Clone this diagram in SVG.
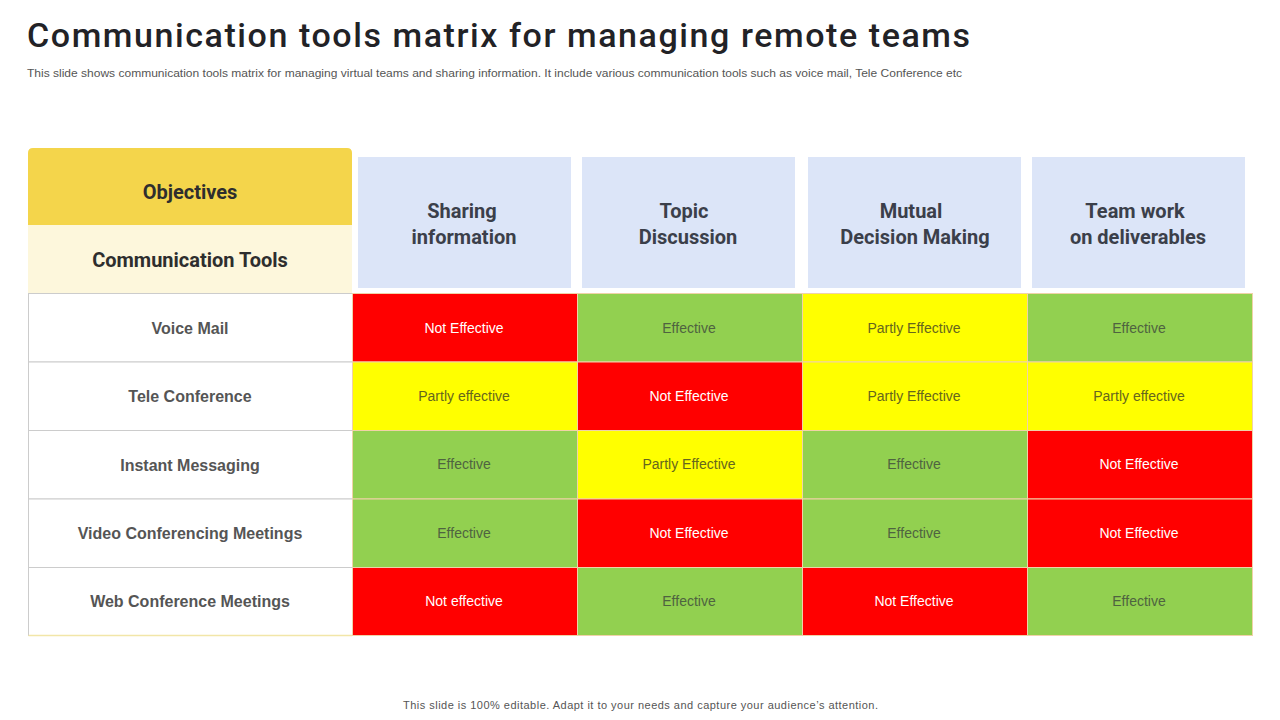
<svg xmlns="http://www.w3.org/2000/svg" width="1280" height="720" viewBox="0 0 1280 720">
<style>
.title{font-family:"Roboto","Liberation Sans",sans-serif;font-size:34px;font-weight:500;fill:#222226}
.sub{font-family:"Liberation Sans","Arial",sans-serif;font-size:11px;fill:#555}
.hdr{font-family:"Roboto","DejaVu Sans Condensed","Liberation Sans",sans-serif;font-size:20px;font-weight:700;fill:#3b3f4a;text-anchor:middle}
.obj{font-family:"Roboto","DejaVu Sans Condensed","Liberation Sans",sans-serif;font-size:20px;font-weight:700;fill:#2e2e2e;text-anchor:middle}
.row{font-family:"Liberation Sans","Arial",sans-serif;font-size:16px;font-weight:700;fill:#555;text-anchor:middle}
.cell{font-family:"Liberation Sans","Arial",sans-serif;font-size:14px;text-anchor:middle}
.red{fill:#FF0000;stroke:#f0d2a8;stroke-width:1}
.grn{fill:#92D050;stroke:#f0d2a8;stroke-width:1}
.yel{fill:#FFFF00;stroke:#f0d2a8;stroke-width:1}
.tr{fill:#ffffff}
.tg{fill:#4f6340}
.ty{fill:#66661e}
.hbox{fill:#DCE5F8}
.lcell{fill:#ffffff;stroke:#cccccc;stroke-width:1}
</style>
<rect width="1280" height="720" fill="#ffffff"/>
<text class="title" x="27" y="47" textLength="943" lengthAdjust="spacing">Communication tools matrix for managing remote teams</text>
<text class="sub" x="27" y="77" textLength="935" lengthAdjust="spacingAndGlyphs">This slide shows communication tools matrix for managing virtual teams and sharing information. It include various communication tools such as voice mail, Tele Conference etc</text>

<g id="corner">
<path d="M28,225 V153 Q28,148 33,148 H347 Q352,148 352,153 V225 Z" fill="#F4D54B"/>
<rect x="28" y="225" width="324" height="68" fill="#FDF7DC"/>
<text class="obj" x="190" y="199">Objectives</text>
<text class="obj" x="190" y="267">Communication  Tools</text>
</g>

<g id="headers">
<g id="h1"><rect class="hbox" x="358" y="157" width="213" height="131"/><text class="hdr" x="462" y="218">Sharing</text><text class="hdr" x="464" y="244">information</text></g>
<g id="h2"><rect class="hbox" x="582" y="157" width="213" height="131"/><text class="hdr" x="684" y="218">Topic</text><text class="hdr" x="688" y="244">Discussion</text></g>
<g id="h3"><rect class="hbox" x="808" y="157" width="213" height="131"/><text class="hdr" x="911" y="218">Mutual</text><text class="hdr" x="915" y="244">Decision  Making</text></g>
<g id="h4"><rect class="hbox" x="1032" y="157" width="213" height="131"/><text class="hdr" x="1135" y="218">Team  work</text><text class="hdr" x="1138" y="244">on deliverables</text></g>
</g>

<g id="rowlabels">
<rect class="lcell" x="28.5" y="293.5" width="324" height="68.5"/>
<rect class="lcell" x="28.5" y="362" width="324" height="68.5"/>
<rect class="lcell" x="28.5" y="430.5" width="324" height="68.5"/>
<rect class="lcell" x="28.5" y="499" width="324" height="68.5"/>
<rect class="lcell" x="28.5" y="567.5" width="324" height="68"/>
<line x1="28.5" y1="635.5" x2="352" y2="635.5" stroke="#f2e6a8" stroke-width="1.5"/>
<text class="row" x="190" y="334">Voice Mail</text>
<text class="row" x="190" y="402">Tele Conference</text>
<text class="row" x="190" y="471">Instant Messaging</text>
<text class="row" x="190" y="539">Video Conferencing Meetings</text>
<text class="row" x="190" y="607">Web Conference Meetings</text>
</g>

<g id="row1">
<rect class="red" x="352.5" y="293.5" width="225" height="68.5"/><text class="cell tr" x="464" y="333">Not Effective</text>
<rect class="grn" x="577.5" y="293.5" width="225" height="68.5"/><text class="cell tg" x="689" y="333">Effective</text>
<rect class="yel" x="802.5" y="293.5" width="225" height="68.5"/><text class="cell ty" x="914" y="333">Partly Effective</text>
<rect class="grn" x="1027.5" y="293.5" width="225" height="68.5"/><text class="cell tg" x="1139" y="333">Effective</text>
</g>
<g id="row2">
<rect class="yel" x="352.5" y="362" width="225" height="68.5"/><text class="cell ty" x="464" y="401">Partly effective</text>
<rect class="red" x="577.5" y="362" width="225" height="68.5"/><text class="cell tr" x="689" y="401">Not Effective</text>
<rect class="yel" x="802.5" y="362" width="225" height="68.5"/><text class="cell ty" x="914" y="401">Partly Effective</text>
<rect class="yel" x="1027.5" y="362" width="225" height="68.5"/><text class="cell ty" x="1139" y="401">Partly effective</text>
</g>
<g id="row3">
<rect class="grn" x="352.5" y="430.5" width="225" height="68.5"/><text class="cell tg" x="464" y="469">Effective</text>
<rect class="yel" x="577.5" y="430.5" width="225" height="68.5"/><text class="cell ty" x="689" y="469">Partly Effective</text>
<rect class="grn" x="802.5" y="430.5" width="225" height="68.5"/><text class="cell tg" x="914" y="469">Effective</text>
<rect class="red" x="1027.5" y="430.5" width="225" height="68.5"/><text class="cell tr" x="1139" y="469">Not Effective</text>
</g>
<g id="row4">
<rect class="grn" x="352.5" y="499" width="225" height="68.5"/><text class="cell tg" x="464" y="538">Effective</text>
<rect class="red" x="577.5" y="499" width="225" height="68.5"/><text class="cell tr" x="689" y="538">Not Effective</text>
<rect class="grn" x="802.5" y="499" width="225" height="68.5"/><text class="cell tg" x="914" y="538">Effective</text>
<rect class="red" x="1027.5" y="499" width="225" height="68.5"/><text class="cell tr" x="1139" y="538">Not Effective</text>
</g>
<g id="row5">
<rect class="red" x="352.5" y="567.5" width="225" height="68"/><text class="cell tr" x="464" y="606">Not effective</text>
<rect class="grn" x="577.5" y="567.5" width="225" height="68"/><text class="cell tg" x="689" y="606">Effective</text>
<rect class="red" x="802.5" y="567.5" width="225" height="68"/><text class="cell tr" x="914" y="606">Not Effective</text>
<rect class="grn" x="1027.5" y="567.5" width="225" height="68"/><text class="cell tg" x="1139" y="606">Effective</text>
</g>

<text class="sub" x="403" y="709" textLength="475" lengthAdjust="spacing">This slide is 100% editable. Adapt it to your needs and capture your audience’s attention.</text>
</svg>
